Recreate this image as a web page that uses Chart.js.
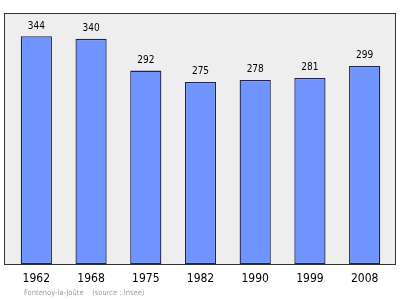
<!DOCTYPE html>
<html>
<head>
<meta charset="utf-8">
<script src="https://cdn.jsdelivr.net/npm/chart.js@4/dist/chart.umd.min.js"></script>
<style>
html,body{margin:0;padding:0;background:#fff;}
#wrap{position:relative;width:400px;height:299px;}
#src{position:absolute;left:24px;top:287px;font-family:"DejaVu Sans Condensed","DejaVu Sans",sans-serif;font-size:7.5px;color:#a0a0a0;white-space:pre;line-height:12px;}
</style>
</head>
<body>
<div id="wrap">
<canvas id="c" width="400" height="299"></canvas>
<div id="src">Fontenoy-la-Joûte    (source : Insee)</div>
</div>
<script>
const years = ["1962","1968","1975","1982","1990","1999","2008"];
const population = [344, 340, 292, 275, 278, 281, 299];

const framePlugin = {
  id: 'frame',
  beforeDraw(chart) {
    const ctx = chart.ctx;
    ctx.save();
    ctx.fillStyle = '#eeeeee';
    ctx.fillRect(4.5, 13.5, 391, 251);
    ctx.strokeStyle = '#333333';
    ctx.lineWidth = 1;
    ctx.strokeRect(4.5, 13.5, 391, 251);
    ctx.restore();
  }
};

const labelPlugin = {
  id: 'vlabels',
  afterDatasetsDraw(chart) {
    const ctx = chart.ctx;
    const meta = chart.getDatasetMeta(0);
    ctx.save();
    ctx.font = '10px "DejaVu Sans Condensed", "DejaVu Sans", sans-serif';
    ctx.fillStyle = '#000';
    ctx.textAlign = 'center';
    ctx.textBaseline = 'alphabetic';
    meta.data.forEach((bar, i) => {
      ctx.fillText(String(population[i]), bar.x, bar.y - 7.5);
    });
    ctx.restore();
  }
};

new Chart(document.getElementById('c'), {
  type: 'bar',
  data: {
    labels: years,
    datasets: [{
      data: population,
      backgroundColor: '#6f94ff',
      borderColor: '#1c2450',
      borderWidth: 1.3,
      borderSkipped: false,
      categoryPercentage: 1,
      barPercentage: 0.57
    }]
  },
  options: {
    responsive: false,
    animation: false,
    devicePixelRatio: 1,
    layout: { padding: { left: 9, right: 8, top: 13, bottom: 0 } },
    plugins: { legend: { display: false }, tooltip: { enabled: false } },
    scales: {
      x: {
        grid: { display: false, drawTicks: false },
        border: { display: false },
        ticks: { color: '#000', font: { family: 'DejaVu Sans Condensed', size: 12 }, padding: 8, maxRotation: 0 },
        afterFit(scale) { scale.height = 35; }
      },
      y: {
        display: false,
        min: 0,
        max: 379
      }
    }
  },
  plugins: [framePlugin, labelPlugin]
});
</script>
</body>
</html>
